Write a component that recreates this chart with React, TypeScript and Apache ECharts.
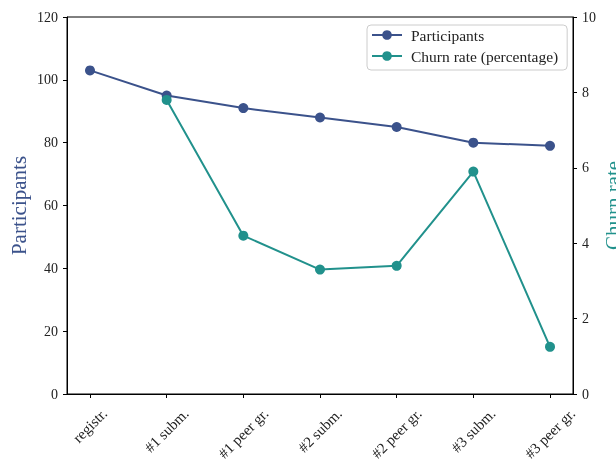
import React, { useEffect, useRef } from "react";
import * as echarts from "echarts";

const categories = ["registr.", "#1 subm.", "#1 peer gr.", "#2 subm.", "#2 peer gr.", "#3 subm.", "#3 peer gr."];
const participants = [103, 95, 91, 88, 85, 80, 79];
const churnRate: (number | null)[] = [null, 7.8, 4.2, 3.3, 3.4, 5.9, 1.25];
const leftTicks = { min: 0, max: 120, interval: 20 };
const rightTicks = { min: 0, max: 10, interval: 2 };

const BLUE = "#3b528b";
const TEAL = "#21918c";
const FONT = "'Liberation Serif', 'DejaVu Serif', serif";
const XFS = 15;

function measure(s: string, font: string) {
  const ctx = document.createElement("canvas").getContext("2d");
  if (!ctx) return s.length * 7;
  ctx.font = font;
  return ctx.measureText(s).width;
}

export default function App() {
  const ref = useRef<HTMLDivElement>(null);
  useEffect(() => {
    if (!ref.current) return;
    const chart = echarts.init(ref.current, undefined, { renderer: "svg" });
    const idx = categories.map((_, i) => i);
    chart.setOption({
      animation: false,
      textStyle: { fontFamily: FONT },
      grid: {
        left: 67,
        right: 43,
        top: 17,
        bottom: 67,
        show: true,
        borderColor: "#000",
        borderWidth: 1,
        backgroundColor: "transparent",
        containLabel: false,
        outerBoundsMode: "none",
      },
      legend: {
        orient: "vertical",
        left: 367,
        top: 25,
        padding: [2, 9, 6, 4],
        itemWidth: 30,
        itemHeight: 12,
        itemGap: 5,
        borderColor: "#ccc",
        borderWidth: 1,
        borderRadius: 4,
        backgroundColor: "rgba(255,255,255,0.8)",
        textStyle: { fontFamily: FONT, fontSize: 15.5, color: "#222", lineHeight: 15, padding: [0, 0, 0, 4] },
        data: ["Participants", "Churn rate (percentage)"],
      },
      xAxis: {
        type: "value",
        min: -0.3,
        max: 6.3,
        splitLine: { show: false },
        axisLine: { show: true, onZero: false, lineStyle: { color: "#000", width: 1 } },
        axisTick: { show: true, length: 4, lineStyle: { color: "#000", width: 1 }, customValues: idx },
        axisLabel: { show: false, customValues: idx },
      },
      yAxis: [
        {
          type: "value",
          ...leftTicks,
          position: "left",
          name: "Participants",
          nameLocation: "middle",
          nameRotate: 90,
          nameGap: 38,
          nameMoveOverlap: false,
          nameTextStyle: { color: BLUE, fontSize: 21, fontFamily: FONT },
          splitLine: { show: false },
          axisLine: { show: true, onZero: false, lineStyle: { color: "#000", width: 1 } },
          axisTick: { show: true, length: 4, lineStyle: { color: "#000" } },
          axisLabel: { margin: 9, fontSize: 14, color: "#222", fontFamily: FONT },
        },
        {
          type: "value",
          ...rightTicks,
          position: "right",
          name: "Churn rate",
          nameLocation: "middle",
          nameRotate: 90,
          nameGap: 29,
          nameMoveOverlap: false,
          nameTextStyle: { color: TEAL, fontSize: 21, fontFamily: FONT },
          splitLine: { show: false },
          axisLine: { show: true, onZero: false, lineStyle: { color: "#000", width: 1 } },
          axisTick: { show: true, length: 4, lineStyle: { color: "#000" } },
          axisLabel: { margin: 9, fontSize: 14, color: "#222", fontFamily: FONT },
        },
      ],
      series: [
        {
          name: "Participants",
          type: "line",
          yAxisIndex: 0,
          data: participants.map((v, i) => [i, v]),
          symbol: "circle",
          symbolSize: 10,
          lineStyle: { color: BLUE, width: 2 },
          itemStyle: { color: BLUE },
        },
        {
          name: "Churn rate (percentage)",
          type: "line",
          yAxisIndex: 1,
          data: churnRate.map((v, i) => (v == null ? null : [i, v])).filter((d) => d !== null),
          symbol: "circle",
          symbolSize: 10,
          lineStyle: { color: TEAL, width: 2 },
          itemStyle: { color: TEAL },
        },
      ],
    });
    // rotated category labels, centred under each tick (placed through the axis scale)
    const Y0 = 411;
    const labels = categories.map((c, i) => {
      const L = measure(c, `${XFS}px 'Liberation Serif'`);
      const px = chart.convertToPixel({ xAxisIndex: 0 }, i) as number;
      return {
        type: "text",
        x: px + 0.3536 * L,
        y: Y0,
        rotation: Math.PI / 4,
        silent: true,
        style: { text: c, fill: "#222", font: `${XFS}px ${FONT}`, align: "right", verticalAlign: "middle" },
      };
    });
    chart.setOption({ graphic: labels });
    return () => chart.dispose();
  }, []);
  return <div ref={ref} style={{ position: "fixed", left: 0, top: 0, width: 616, height: 461 }} />;
}
